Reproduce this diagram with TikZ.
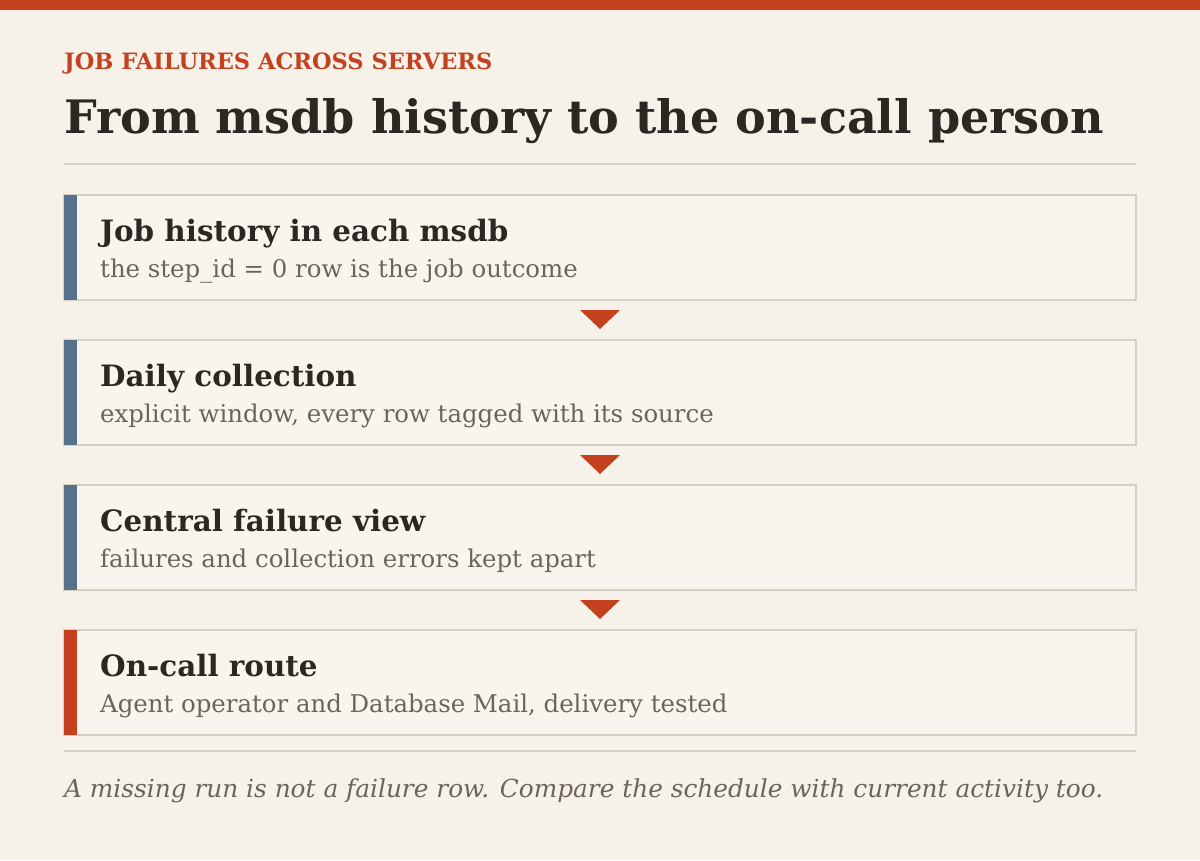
\documentclass[tikz,border=0pt]{standalone}
\usepackage{fontspec}
\setmainfont{DejaVu Serif}
\usetikzlibrary{positioning,calc}
\definecolor{paper}{HTML}{F7F2E9}
\definecolor{boxfill}{HTML}{F9F5EE}
\definecolor{rust}{HTML}{C4411F}
\definecolor{ink}{HTML}{2B2824}
\definecolor{muted}{HTML}{6B645B}
\definecolor{rulegray}{HTML}{D6CFC4}
\definecolor{slate}{HTML}{56718C}

\begin{document}
\begin{tikzpicture}[x=1pt,y=-1pt,node distance=40pt,
		stage/.style={rectangle,draw=rulegray,line width=2pt,fill=boxfill,minimum width=1072pt,minimum height=105pt,inner sep=0pt,outer sep=0pt},
		stage title/.style={anchor=base west,inner sep=0pt,text=ink,font=\fontsize{29.4}{34}\selectfont\bfseries},
		stage note/.style={anchor=base west,inner sep=0pt,text=muted,font=\fontsize{24.4}{30}\selectfont}]

		\useasboundingbox[fill=paper] (0,0) rectangle (1200,860);
		\fill[rust] (0,0) rectangle (1200,10);

		% heading
		\node[anchor=base west,inner sep=0pt,text=rust,font=\fontsize{22.5}{26}\selectfont\bfseries] (kicker) at (64,69) {JOB FAILURES ACROSS SERVERS};
		\node[anchor=base west,inner sep=0pt,text=ink,font=\fontsize{46.1}{52}\selectfont\bfseries] (headline) at (64,133) {From msdb history to the on-call person};
		\draw[rulegray,line width=2pt] (64,164) -- (1136,164);

		% stages
		\node[stage,anchor=north west] (b1) at (64,195) {};
		\node[stage] (b2) [below=of b1] {};
		\node[stage] (b3) [below=of b2] {};
		\node[stage] (b4) [below=of b3] {};

		\fill[slate] (b1.north west) rectangle ($(b1.south west)+(13pt,0pt)$);
		\fill[slate] (b2.north west) rectangle ($(b2.south west)+(13pt,0pt)$);
		\fill[slate] (b3.north west) rectangle ($(b3.south west)+(13pt,0pt)$);
		\fill[rust] (b4.north west) rectangle ($(b4.south west)+(13pt,0pt)$);

		\node[stage title] (t1) at ($(b1.north west)+(36pt,-46pt)$) {Job history in each msdb};
		\node[stage note] (n1) at ($(b1.north west)+(36pt,-82pt)$) {the step\_id = 0 row is the job outcome};
		\node[stage title] (t2) at ($(b2.north west)+(36pt,-46pt)$) {Daily collection};
		\node[stage note] (n2) at ($(b2.north west)+(36pt,-82pt)$) {explicit window, every row tagged with its source};
		\node[stage title] (t3) at ($(b3.north west)+(36pt,-46pt)$) {Central failure view};
		\node[stage note] (n3) at ($(b3.north west)+(36pt,-82pt)$) {failures and collection errors kept apart};
		\node[stage title] (t4) at ($(b4.north west)+(36pt,-46pt)$) {On-call route};
		\node[stage note] (n4) at ($(b4.north west)+(36pt,-82pt)$) {Agent operator and Database Mail, delivery tested};

		% arrows between stages
		\fill[rust] ($(b1.south)+(-20pt,-10pt)$) -- ++(40pt,0pt) -- ++(-20pt,-19pt) -- cycle;
		\fill[rust] ($(b2.south)+(-20pt,-10pt)$) -- ++(40pt,0pt) -- ++(-20pt,-19pt) -- cycle;
		\fill[rust] ($(b3.south)+(-20pt,-10pt)$) -- ++(40pt,0pt) -- ++(-20pt,-19pt) -- cycle;

		% footer
		\draw[rulegray,line width=2pt] (64,751) -- (1136,751);
		\node[anchor=base west,inner sep=0pt,text=muted,font=\fontsize{24.8}{30}\selectfont\itshape] (footnote) at (64,797) {A missing run is not a failure row. Compare the schedule with current activity too.};
\end{tikzpicture}
\end{document}
